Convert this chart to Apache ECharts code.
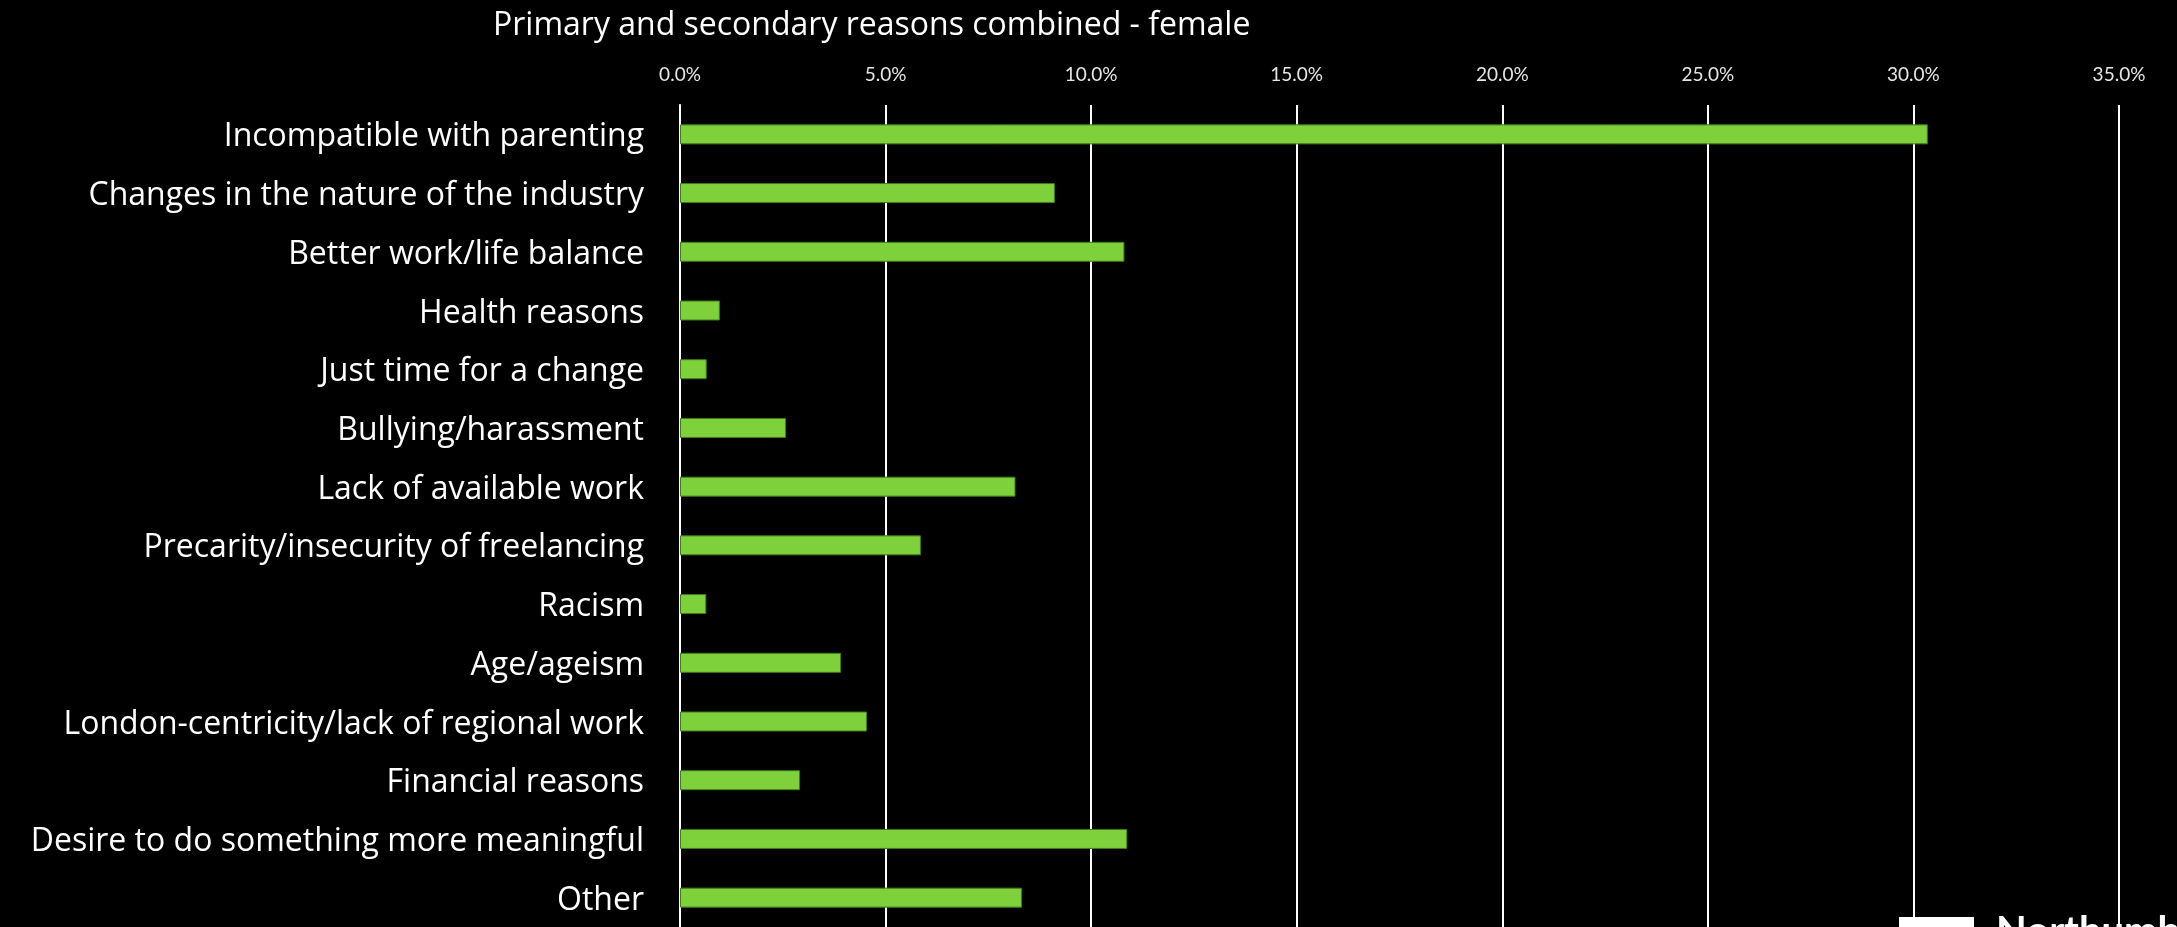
<!DOCTYPE html>
<html>
<head>
<meta charset="utf-8">
<title>Primary and secondary reasons combined - female</title>
<script src="https://cdn.jsdelivr.net/npm/echarts@6/dist/echarts.min.js"></script>
<style>
  html, body { margin: 0; padding: 0; background: #000; }
  #chart { width: 2177px; height: 927px; }
</style>
</head>
<body>
<div id="chart"></div>
<script>
// Reasons for leaving, share of female respondents (%)
const categories = [
  'Incompatible with parenting',
  'Changes in the nature of the industry',
  'Better work/life balance',
  'Health reasons',
  'Just time for a change',
  'Bullying/harassment',
  'Lack of available work',
  'Precarity/insecurity of freelancing',
  'Racism',
  'Age/ageism',
  'London-centricity/lack of regional work',
  'Financial reasons',
  'Desire to do something more meaningful',
  'Other'
];
const values = [30.35, 9.12, 10.81, 0.97, 0.65, 2.58, 8.16, 5.86, 0.64, 3.92, 4.55, 2.92, 10.88, 8.32];
const axisMin = 0;
const axisMax = 35;
const axisStep = 5;
const chartTitle = 'Primary and secondary reasons combined - female';

const FONT = '"Open Sans", Lato, sans-serif';
const TICK_FONT = 'Lato, "Open Sans", sans-serif';

const chart = echarts.init(document.getElementById('chart'));
chart.setOption({
  backgroundColor: '#000000',
  animation: false,
  title: {
    text: chartTitle,
    left: 488,
    top: 5,
    textStyle: { color: '#ffffff', fontFamily: FONT, fontSize: 32, fontWeight: 'normal' }
  },
  grid: { left: 680, right: 58, top: 105, bottom: 0, containLabel: false },
  xAxis: {
    type: 'value',
    position: 'top',
    min: axisMin,
    max: axisMax,
    interval: axisStep,
    axisLine: { show: false },
    axisTick: { show: false },
    axisLabel: {
      color: '#e6e6e6',
      fontFamily: TICK_FONT,
      fontSize: 19,
      margin: 21,
      formatter: v => v.toFixed(1) + '%'
    },
    splitLine: { show: true, lineStyle: { color: '#ffffff', width: 2 } }
  },
  yAxis: {
    type: 'category',
    data: categories,
    inverse: true,
    axisLine: { show: true, lineStyle: { color: '#ffffff', width: 2 } },
    axisTick: { show: false },
    axisLabel: {
      margin: 36,
      formatter: v => '{c|' + v + '}',
      rich: {
        c: {
          color: '#ffffff',
          fontFamily: FONT,
          fontSize: 32,
          padding: [6, 0, 0, 0]
        }
      }
    }
  },
  series: [{
    type: 'bar',
    data: values,
    barWidth: 20,
    itemStyle: { color: '#7ed13b', borderColor: '#3f7a1e', borderWidth: 1 }
  }],
  graphic: [
    { type: 'rect', left: 1899, top: 917, shape: { width: 75, height: 20 }, style: { fill: '#ffffff' } },
    { type: 'text', left: 1996, top: 912, style: { text: 'Northumbria', fill: '#ffffff', font: 'bold 40px ' + TICK_FONT } }
  ]
});
</script>
</body>
</html>
